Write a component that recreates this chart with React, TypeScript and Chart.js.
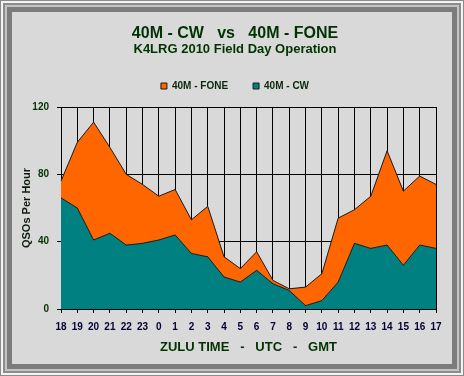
import React, { useEffect, useRef } from "react";
import { Chart, registerables } from "chart.js";

Chart.register(...registerables);

const categories = ["18","19","20","21","22","23","0","1","2","3","4","5","6","7","8","9","10","11","12","13","14","15","16","17"];
const cwValues = [66,60,41,45,38,39,41,44,33,31,19,16,23,15,11,2,5,16,39,36,38,26,38,36];
const foneValues = [10,39,70,51,42,35,26,27,20,30,12,8,11,2,1,11,16,38,20,31,56,44,41,38];
const yTicks = [0, 40, 80, 120];

const FONT = "Arial, 'Liberation Sans', sans-serif";
const GREEN = "#003300";

const framePlugin = {
  id: "frame",
  beforeDraw(chart: any) {
    const ctx = chart.ctx;
    const w = chart.width;
    const h = chart.height;
    ctx.save();
    const layers: [number, string][] = [
      [0, "#8a8a8a"],
      [1, "#f4f4f4"],
      [3, "#8c8c8c"],
      [5, "#c4c4c4"],
      [7, "#7c7c7c"],
      [12, "#d9d9d9"],
    ];
    for (const [inset, color] of layers) {
      ctx.fillStyle = color;
      ctx.fillRect(inset, inset, w - 2 * inset, h - 2 * inset);
    }
    ctx.restore();
  },
};

export default function App() {
  const ref = useRef<HTMLCanvasElement>(null);
  useEffect(() => {
    if (!ref.current) return;
    const chart = new Chart(ref.current, {
      type: "line",
      data: {
        labels: categories,
        datasets: [
          {
            label: "40M - CW",
            data: cwValues,
            backgroundColor: "#008080",
            borderColor: "#1a1a1a",
            borderWidth: 1,
            fill: "origin",
            pointRadius: 0,
            tension: 0,
          },
          {
            label: "40M - FONE",
            data: foneValues,
            backgroundColor: "#ff6600",
            borderColor: "#1a1a1a",
            borderWidth: 1,
            fill: "-1",
            pointRadius: 0,
            tension: 0,
          },
        ],
      },
      options: {
        responsive: false,
        animation: false,
        devicePixelRatio: 1,
        layout: { padding: { left: 6, right: 0, top: 0, bottom: 0 } },
        plugins: {
          title: {
            display: true,
            text: "40M - CW   vs   40M - FONE",
            color: GREEN,
            font: { family: FONT, size: 16, weight: "bold", lineHeight: 1 },
            padding: { top: 25.6, bottom: 0 },
          },
          subtitle: {
            display: true,
            text: "K4LRG 2010 Field Day Operation",
            color: GREEN,
            font: { family: FONT, size: 13, weight: "bold", lineHeight: 1 },
            padding: { top: 1.4, bottom: 0 },
          },
          legend: {
            display: true,
            reverse: true,
            labels: {
              boxWidth: 6,
              boxHeight: 6,
              padding: 25,
              color: "#0d260d",
              font: { family: FONT, size: 10, weight: "bold" },
            },
          },
          tooltip: { enabled: false },
        },
        scales: {
          x: {
            type: "category",
            offset: false,
            grid: { color: "#000", lineWidth: 1, tickLength: 4, offset: false },
            border: { color: "#000", width: 1 },
            ticks: {
              autoSkip: false,
              maxRotation: 0,
              minRotation: 0,
              padding: 8,
              color: "#000033",
              font: { family: FONT, size: 10, weight: "bold" },
            },
            title: {
              display: true,
              text: "ZULU TIME   -   UTC   -   GMT",
              color: GREEN,
              font: { family: FONT, size: 13, weight: "bold" },
              padding: { top: 0, bottom: 21 },
            },
            afterFit: (s: any) => {
              s.height = 67;
            },
          },
          x2: {
            type: "category",
            position: "top",
            display: true,
            grid: { display: false, drawTicks: false },
            border: { display: false },
            ticks: { display: false },
            afterFit: (s: any) => {
              s.height = 6;
            },
          },
          y: {
            stacked: true,
            min: 0,
            max: 120,
            afterBuildTicks: (s: any) => {
              s.ticks = yTicks.map((v) => ({ value: v }));
            },
            grid: { color: "#000", lineWidth: 1, tickLength: 4 },
            border: { color: "#000", width: 1 },
            ticks: {
              padding: 8,
              color: GREEN,
              font: { family: FONT, size: 10, weight: "bold" },
            },
            title: {
              display: true,
              text: "QSOs Per Hour",
              color: "#0d1a0d",
              font: { family: FONT, size: 11, weight: "bold" },
              padding: { top: 14.4, bottom: 0 },
            },
            afterFit: (s: any) => {
              s.width = 55;
            },
          },
          y2: {
            type: "linear",
            position: "right",
            display: true,
            grid: { display: false, drawTicks: false },
            border: { display: false },
            ticks: { display: false },
            afterFit: (s: any) => {
              s.width = 28;
            },
          },
        },
      },
      plugins: [framePlugin],
    } as any);
    return () => chart.destroy();
  }, []);
  return (
    <div style={{ position: "absolute", left: 0, top: 0, width: 464, height: 376 }}>
      <canvas ref={ref} width={464} height={376} style={{ width: 464, height: 376, display: "block" }} />
    </div>
  );
}
